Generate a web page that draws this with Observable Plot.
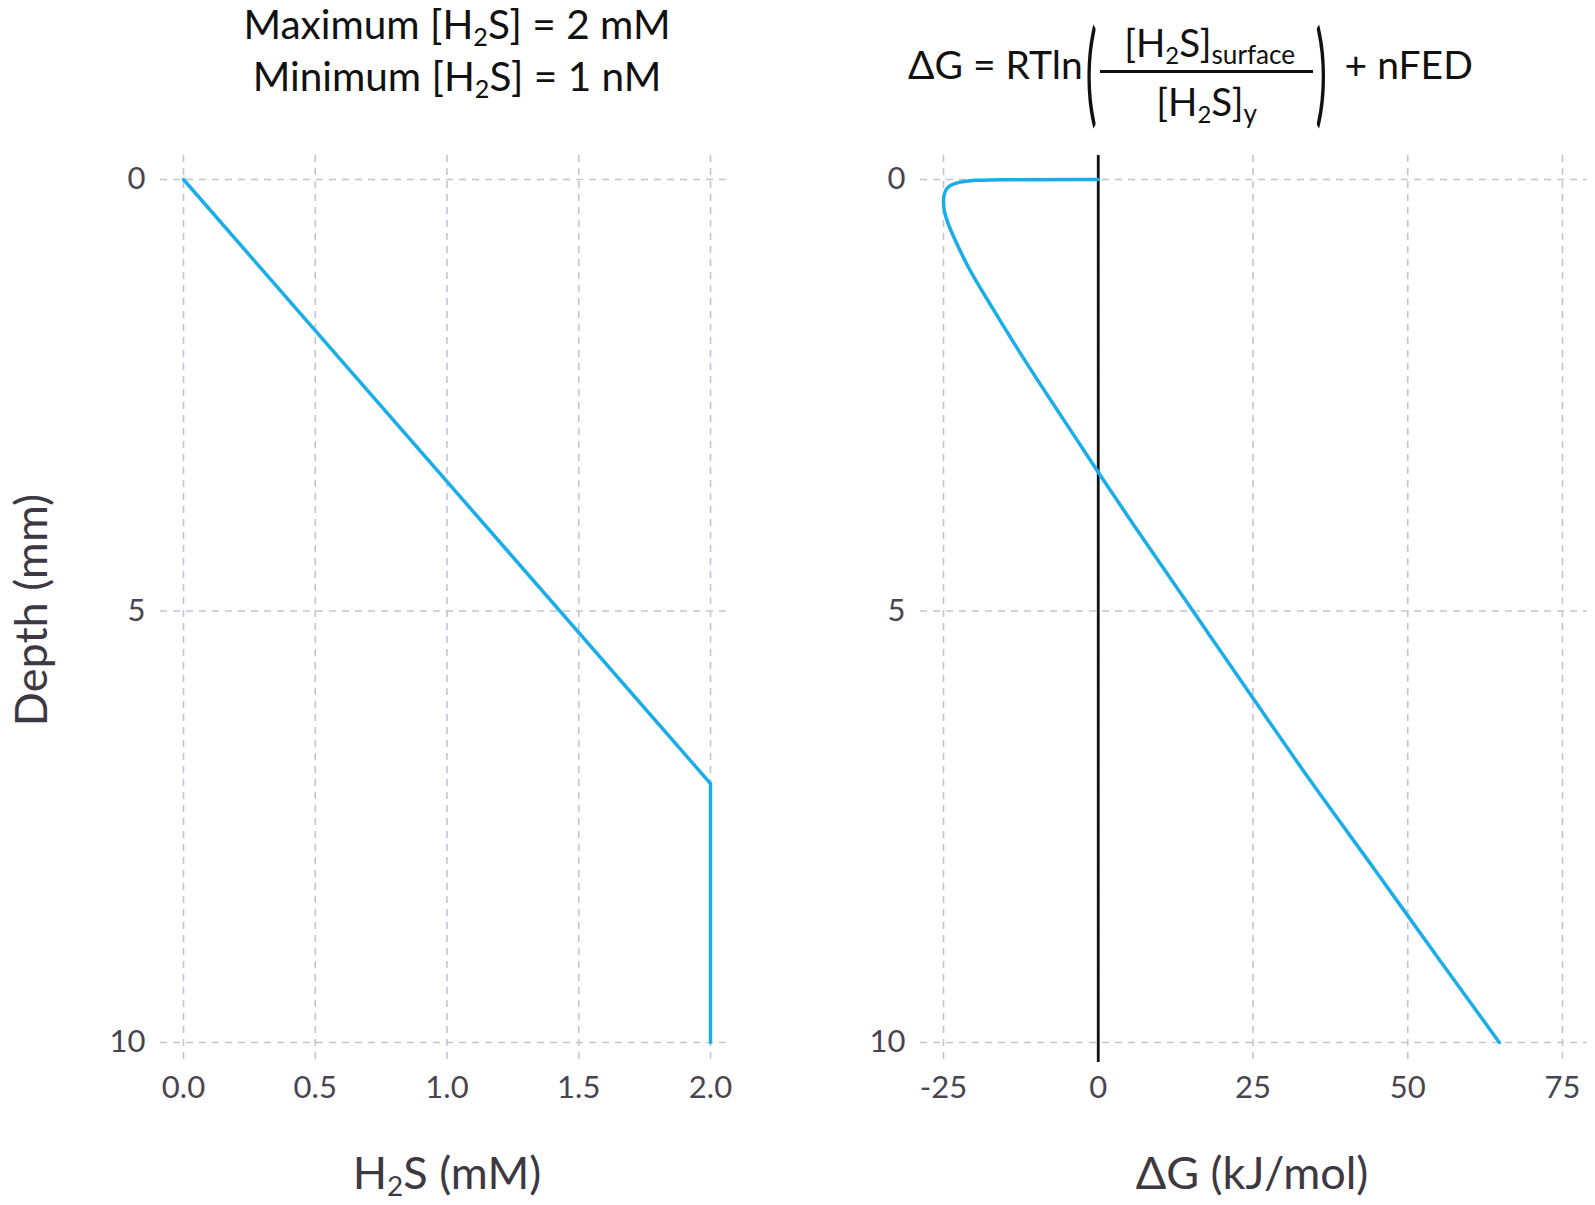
<!DOCTYPE html>
<html>
<head>
<meta charset="utf-8">
<script src="https://cdn.jsdelivr.net/npm/d3@7"></script>
<script src="https://cdn.jsdelivr.net/npm/@observablehq/plot@0.6"></script>
<style>
  body { margin: 0; background: #fff; }
  #wrap { position: relative; width: 1595px; height: 1205px; background: #fff; font-family: Lato, "Noto Sans", sans-serif; overflow: hidden; }
  .t { position: absolute; white-space: nowrap; line-height: 1; }
  .c { transform: translate(-50%, -50%); }
  sub { font-size: 0.62em; vertical-align: -0.28em; line-height: 0; }
  #ttl { left: 457px; top: -2px; transform: translateX(-50%); font-size: 40.5px; line-height: 52px; text-align: center; color: #111; }
  .axt { font-size: 45px; color: #3d3842; }
  #formula { position: absolute; left: 908px; top: 23px; height: 97px; display: flex; align-items: center; font-size: 39px; color: #111; white-space: nowrap; }
  .txt { position: relative; top: -8px; }
  .par { display: inline-block; position: relative; top: -4px; font-weight: 400; transform: scale(1.1, 2.9); margin: 0 4px 0 3px; }
  .frac { display: inline-flex; flex-direction: column; align-items: center; font-size: 38.5px; }
  .frac sub.big { font-size: 0.68em; }
  .num { padding: 0 18px 5px 24px; border-bottom: 3px solid #111; }
  .den { padding-top: 5px; }
  .plus { margin-left: 14px; }
  .plot { position: absolute; top: 0; }
</style>
</head>
<body>
<div id="wrap">
  <div id="ttl" class="t">Maximum [H<sub>2</sub>S] = 2 mM<br>Minimum [H<sub>2</sub>S] = 1 nM</div>
  <div id="formula">
    <span class="txt">ΔG = RTln</span>
    <span class="par">(</span>
    <span class="frac"><span class="num">[H<sub>2</sub>S]<sub class="big">surface</sub></span><span class="den">[H<sub>2</sub>S]<sub class="big">y</sub></span></span>
    <span class="par">)</span>
    <span class="txt plus">+ nFED</span>
  </div>
  <div class="t c axt" style="left:447px; top:1172px;">H<sub>2</sub>S (mM)</div>
  <div class="t c axt" style="left:1252px; top:1172px;">ΔG (kJ/mol)</div>
  <div class="t axt" style="left:30px; top:610px; transform: translate(-50%, -50%) rotate(-90deg);">Depth (mm)</div>
</div>
<script>
// ---- data ----
const depthTicks = [0, 5, 10];
const h2sTicks = [0, 0.5, 1, 1.5, 2];
const dgTicks = [-25, 0, 25, 50, 75];

const h2sDepth = [0, 7, 10];
const h2sConc  = [0, 2, 2];

const dgDepth = [0, 0.002, 0.01, 0.02, 0.05, 0.1, 0.18, 0.25, 0.35, 0.5, 0.75, 1, 1.5, 2, 2.5, 3, 3.5, 4, 5, 6, 7, 8, 9, 10];
const dgValue = [0, -15.5, -19.6, -21.3, -23.3, -24.4, -24.9, -25.0, -24.9, -24.3, -22.8, -21.1, -17.0, -12.7, -8.2, -3.6, 1.0, 5.7, 15.3, 24.9, 34.6, 44.7, 54.7, 64.8];

// ---- styles ----
const gridStyle = { stroke: "#c4c3d6", strokeWidth: 1.6, strokeDasharray: "7,6", strokeOpacity: 1 };
const lineColor = "#19ade9";
const axisStyle = { fontFamily: "Lato, 'Noto Sans', sans-serif", fontSize: "31px", color: "#4a4450", background: "transparent", overflow: "visible" };

const h2sRows = h2sDepth.map((d, i) => ({ depth: d, conc: h2sConc[i] }));
const dgRows = dgDepth.map((d, i) => ({ depth: d, dg: dgValue[i] }));

const yOpts = { domain: [0, 10], reverse: true, insetTop: 24, insetBottom: 20, ticks: depthTicks, tickSize: 0, tickPadding: 15, label: null };

const left = Plot.plot({
  width: 800, height: 1110,
  marginTop: 155, marginBottom: 48, marginLeft: 160, marginRight: 68,
  style: axisStyle,
  x: { domain: [0, 2], insetLeft: 23, insetRight: 22, ticks: h2sTicks, tickFormat: d3.format(".1f"), tickSize: 0, tickPadding: 13, label: null },
  y: yOpts,
  marks: [
    Plot.ruleX(h2sTicks, { x: d => d, ...gridStyle }),
    Plot.ruleY(depthTicks, { y: d => d, ...gridStyle }),
    Plot.line(h2sRows, { x: "conc", y: "depth", stroke: lineColor, strokeWidth: 3.5 })
  ]
});

const right = Plot.plot({
  width: 795, height: 1110,
  marginTop: 155, marginBottom: 48, marginLeft: 120, marginRight: 8,
  style: axisStyle,
  x: { domain: [-25, 75], insetLeft: 23, insetRight: 25, ticks: dgTicks, tickFormat: d => String(d), tickSize: 0, tickPadding: 13, label: null },
  y: yOpts,
  marks: [
    Plot.ruleX(dgTicks, { x: d => d, ...gridStyle }),
    Plot.ruleY(depthTicks, { y: d => d, ...gridStyle }),
    Plot.ruleX([0], { stroke: "#111", strokeWidth: 2.8 }),
    Plot.line(dgRows, { x: "dg", y: "depth", stroke: lineColor, strokeWidth: 3.5, curve: "monotone-y" })
  ]
});

left.classList.add("plot");
left.style.left = "0px";
right.classList.add("plot");
right.style.left = "800px";
const wrap = document.getElementById("wrap");
wrap.appendChild(left);
wrap.appendChild(right);
</script>
</body>
</html>
